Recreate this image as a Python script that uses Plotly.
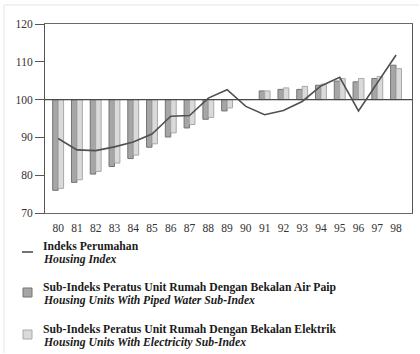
import plotly.graph_objects as go

# ---- data ----
years = [80, 81, 82, 83, 84, 85, 86, 87, 88, 89, 90, 91, 92, 93, 94, 95, 96, 97, 98]
year_labels = [str(y) for y in years]
housing_index = [89.7, 86.7, 86.5, 87.5, 88.8, 90.9, 95.6, 95.8, 100.4, 102.6,
                 98.2, 96.0, 97.1, 99.5, 103.6, 105.9, 97.0, 104.4, 111.8]
piped_water = [76.0, 78.1, 80.3, 82.3, 84.4, 87.4, 90.1, 92.5, 94.8, 97.0,
               100.0, 102.3, 102.7, 102.7, 103.8, 104.9, 104.7, 105.6, 109.1]
electricity = [76.5, 78.8, 81.0, 83.2, 85.3, 88.3, 91.2, 93.4, 95.3, 97.8,
               100.0, 102.3, 103.1, 103.5, 104.1, 105.6, 105.6, 106.1, 108.2]
base_value = 100
y_ticks = [70, 80, 90, 100, 110, 120]

legend_items = [
    ("Indeks Perumahan", "Housing Index"),
    ("Sub-Indeks Peratus Unit Rumah Dengan Bekalan Air Paip",
     "Housing Units With Piped Water Sub-Index"),
    ("Sub-Indeks Peratus Unit Rumah Dengan Bekalan Elektrik",
     "Housing Units With Electricity Sub-Index"),
]

# ---- layout constants ----
W, H = 420, 354
L, R, T, B = 45, 8, 24, 141
PW, PH = W - L - R, H - T - B
FONT = "Liberation Serif, Times New Roman, serif"
DARK_FILL, DARK_LINE = "#a6a6a6", "#747474"
LIGHT_FILL, LIGHT_LINE = "#dadada", "#a8a8a8"
LINE_COLOR = "#505050"


def px_x(px):
    return (px - L) / PW


def px_y(py):
    return (H - B - py) / PH


bw = 0.29
fig = go.Figure()
fig.add_trace(go.Bar(
    x=years, y=[v - base_value for v in piped_water], base=base_value,
    width=bw, offset=-bw, marker=dict(color=DARK_FILL, line=dict(color=DARK_LINE, width=1)),
    showlegend=False))
fig.add_trace(go.Bar(
    x=years, y=[v - base_value for v in electricity], base=base_value,
    width=bw, offset=0, marker=dict(color=LIGHT_FILL, line=dict(color=LIGHT_LINE, width=1)),
    showlegend=False))
fig.add_trace(go.Scatter(
    x=years, y=housing_index, mode="lines",
    line=dict(color=LINE_COLOR, width=1.6), showlegend=False))

shapes = [
    # reference line at base value
    dict(type="line", xref="paper", yref="y", x0=0, x1=1, y0=base_value, y1=base_value,
         line=dict(color="#4a4a4a", width=1.2), layer="above"),
    # faint page border
    dict(type="line", xref="paper", yref="paper", x0=px_x(4), x1=px_x(419),
         y0=px_y(5), y1=px_y(5), line=dict(color="#e4e4e4", width=1)),
    dict(type="line", xref="paper", yref="paper", x0=px_x(4), x1=px_x(4),
         y0=px_y(5), y1=px_y(353), line=dict(color="#e4e4e4", width=1)),
    # legend symbols
    dict(type="line", xref="paper", yref="paper", x0=px_x(22), x1=px_x(33),
         y0=px_y(252), y1=px_y(252), line=dict(color=LINE_COLOR, width=1.6)),
    dict(type="rect", xref="paper", yref="paper", x0=px_x(23), x1=px_x(32),
         y0=px_y(297), y1=px_y(288), fillcolor=DARK_FILL, line=dict(color=DARK_LINE, width=1)),
    dict(type="rect", xref="paper", yref="paper", x0=px_x(23), x1=px_x(32),
         y0=px_y(339), y1=px_y(330), fillcolor=LIGHT_FILL, line=dict(color=LIGHT_LINE, width=1)),
]

annotations = []
legend_y = [(246, 259), (287, 300), (329, 342)]
for (bold_txt, ital_txt), (y1, y2) in zip(legend_items, legend_y):
    annotations.append(dict(text=f"<b>{bold_txt}</b>", xref="paper", yref="paper",
                            x=px_x(41), y=px_y(y1), xanchor="left", yanchor="middle",
                            showarrow=False, font=dict(family=FONT, size=11.7, color="#1a1a1a")))
    annotations.append(dict(text=f"<b><i>{ital_txt}</i></b>", xref="paper", yref="paper",
                            x=px_x(41), y=px_y(y2), xanchor="left", yanchor="middle",
                            showarrow=False, font=dict(family=FONT, size=11.7, color="#1a1a1a")))

fig.update_layout(
    width=W, height=H,
    margin=dict(l=L, r=R, t=T, b=B, pad=0),
    paper_bgcolor="white", plot_bgcolor="white",
    font=dict(family=FONT, size=11, color="#333333"),
    barmode="overlay",
    shapes=shapes, annotations=annotations,
    xaxis=dict(range=[79.3, 98.85], tickmode="array", tickvals=years, ticktext=year_labels,
               ticks="outside", ticklen=4, tickcolor="rgba(0,0,0,0)",
               showline=True, linecolor="#6a6a6a", linewidth=1, mirror=True,
               showgrid=False, zeroline=False, tickfont=dict(family=FONT, size=11.5)),
    yaxis=dict(range=[70, 120], tickmode="array", tickvals=y_ticks,
               ticks="outside", ticklen=9, tickcolor="#555555", tickwidth=1,
               showline=True, linecolor="#555555", linewidth=1, mirror=True,
               showgrid=False, zeroline=False, tickfont=dict(family=FONT, size=11.5)),
)

fig.write_html("out.html", config={"displayModeBar": False},
               post_script="document.body.style.margin='0';document.body.style.overflow='hidden';")
